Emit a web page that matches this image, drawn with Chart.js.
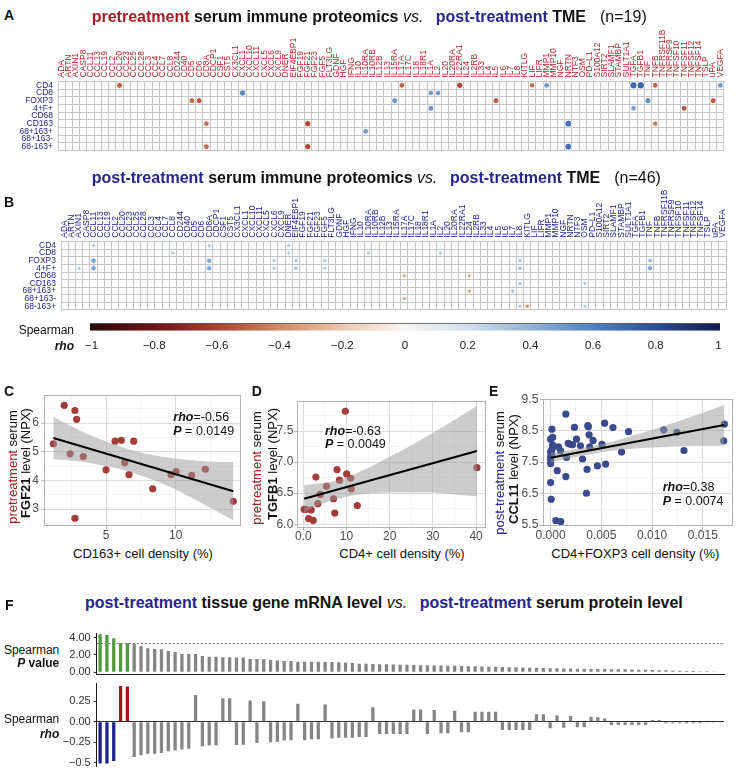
<!DOCTYPE html>
<html>
<head>
<meta charset="utf-8">
<title>Serum immune proteomics vs TME</title>
<script src="https://cdn.jsdelivr.net/npm/chart.js@4.4.1/dist/chart.umd.min.js"></script>
<style>
  body { margin: 0; background: #fff; }
  #fig { position: relative; width: 737px; height: 772px; overflow: hidden; background: #fff;
         font-family: "Liberation Sans", Arial, Helvetica, sans-serif; color: #111; }
  #fig canvas { position: absolute; }
  .t { position: absolute; white-space: nowrap; line-height: 1; }
  .red { color: #a51d23; }
  .navy { color: #25258c; }
  .bi { font-weight: bold; font-style: italic; }
</style>
</head>
<body>
<div id="fig"></div>
<script>
// ---------------- data ----------------
const proteins = ['ADA','ARTN','AXIN1','CASP8','CCL11','CCL13','CCL19','CCL2','CCL20','CCL23','CCL25','CCL28',
  'CCL3','CCL4','CCL7','CCL8','CD244','CD40','CD5','CD6','CD8A','CDCP1','CSF1','CST5','CX3CL1','CXCL1','CXCL10',
  'CXCL11','CXCL5','CXCL6','CXCL9','DNER','EIF4EBP1','FGF19','FGF21','FGF23','FGF5','FLT3LG','GDNF','HGF','IFNG',
  'IL10','IL10RA','IL10RB','IL12B','IL13','IL15RA','IL17A','IL17C','IL18','IL18R1','IL1A','IL2','IL20','IL20RA',
  'IL22RA1','IL24','IL2RB','IL33','IL4','IL5','IL6','IL7','IL8','KITLG','LIF','LIFR','MMP1','MMP10','NGF','NRTN',
  'NTF3','OSM','PD\u2013L1','S100A12','SIRT2','SLAMF1','STAMBP','SULT1A1','TGFA','TGFB1','TNF','TNFB','TNFRSF11B',
  'TNFRSF9','TNFSF10','TNFSF11','TNFSF12','TNFSF14','TSLP','uPA','VEGFA'];
const tmeRows = ['CD4','CD8','FOXP3','4+F+','CD68','CD163','68+163+','68+163-','68-163+'];

// significant cells: [protein, TME marker, Spearman rho]
const preDots = [
  ['CCL20','CD4',-0.52], ['IL17A','CD4',-0.5], ['IL22RA1','CD4',-0.58], ['LIF','CD4',-0.47], ['MMP1','CD4',0.5],
  ['TGFA','CD4',0.7], ['TGFB1','CD4',0.72], ['TNFB','CD4',-0.5], ['VEGFA','CD4',0.5],
  ['CXCL1','CD8',0.58], ['IL1A','CD8',0.5], ['IL2','CD8',0.5],
  ['CD5','FOXP3',-0.5], ['CD6','FOXP3',-0.53], ['IL15RA','FOXP3',0.52], ['IL5','FOXP3',-0.53], ['TNF','FOXP3',0.55], ['uPA','FOXP3',-0.53],
  ['IL1A','4+F+',0.52], ['TGFA','4+F+',0.48], ['TNFSF11','4+F+',-0.53],
  ['CD8A','CD163',-0.48], ['FGF21','CD163',-0.58], ['NRTN','CD163',0.66], ['TNFB','CD163',-0.45],
  ['IL10RA','68+163+',0.5],
  ['CD8A','68-163+',-0.5], ['FGF21','68-163+',-0.58], ['NRTN','68-163+',0.66]
];
const postDots = [
  ['CCL11','CD4',0.3], ['CD8A','CD4',0.3], ['DNER','CD4',0.3],
  ['CCL8','CD8',0.3], ['DNER','CD8',0.3], ['IL10RA','CD8',0.3], ['IL2','CD8',0.3],
  ['CCL11','FOXP3',0.47], ['CD8A','FOXP3',0.45], ['CXCL6','FOXP3',0.3], ['EIF4EBP1','FOXP3',0.32], ['FGF5','FOXP3',0.3],
  ['IL8','FOXP3',0.32], ['TNF','FOXP3',0.38],
  ['AXIN1','4+F+',0.3], ['CCL11','4+F+',0.47], ['CD8A','4+F+',0.45], ['CXCL6','4+F+',0.3], ['EIF4EBP1','4+F+',0.33],
  ['FGF5','4+F+',0.3], ['IL8','4+F+',0.33], ['TNF','4+F+',0.45],
  ['IL17A','CD68',-0.3], ['IL24','CD68',-0.3],
  ['IL8','CD163',0.32], ['OSM','CD163',0.3],
  ['IL24','68+163+',-0.32], ['IL7','68+163+',0.33],
  ['IL17A','68+163-',-0.3],
  ['IL8','68-163+',0.3], ['KITLG','68-163+',-0.35], ['OSM','68-163+',0.3]
];

// colour bar
const rhoTicks = [-1, -0.8, -0.6, -0.4, -0.2, 0, 0.2, 0.4, 0.6, 0.8, 1];
const rhoColors = ['#290a0c','#6e131a','#a8412f','#cf8a65','#ecc8b0','#f7f5f2','#d0deea','#93b2d4','#5281bd','#2c4e92','#131c4e'];

// C: CD163+ density vs pretreatment FGF21
const cDensity = [1.22, 2.0, 2.77, 2.89, 2.42, 3.37, 2.77, 5.0, 5.65, 6.1, 6.99, 6.34, 6.65, 8.35, 9.67, 10.03, 11.15, 12.13, 14.14];
const cFGF21   = [5.28, 6.62, 6.44, 6.13, 4.93, 4.83, 2.68, 4.37, 5.37, 5.40, 5.37, 4.62, 4.20, 3.71, 4.20, 4.31, 4.18, 4.39, 3.27];
const cFitX = [1.22, 14.14], cFitY = [5.48, 3.62];
const cBandX  = [1.22, 3, 4.5, 6, 7.5, 9.36, 11.75, 14.14];
const cBandLo = [4.75, 4.67, 4.55, 4.40, 4.17, 3.82, 3.24, 2.60];
const cBandHi = [6.21, 5.77, 5.45, 5.18, 4.97, 4.80, 4.68, 4.64];
const cXTicks = [2.5, 5, 7.5, 10, 12.5], cXMajor = [5, 10];
const cYTicks = [2.5, 3, 3.5, 4, 4.5, 5, 5.5, 6, 6.5], cYMajor = [3, 4, 5, 6];

// D: CD4+ density vs pretreatment TGFB1
const dDensity = [9.74, 2.92, 7.82, 10.05, 8.37, 10.97, 11.1, 5.38, 3.91, 6.99, 3.38, 12.5, 7.29, 0.62, 1.84, 1.24, 2.3, 40.2, 0.2];
const dTGFB1   = [7.82, 6.76, 6.88, 6.81, 6.71, 6.74, 6.57, 6.61, 6.48, 6.41, 6.33, 6.30, 6.18, 6.24, 6.23, 6.09, 6.06, 6.91, 6.24];
const dFitX = [0.2, 40.2], dFitY = [6.41, 7.18];
const dBandX  = [0.2, 4, 8, 12, 16, 20, 25, 30, 35, 40.2];
const dBandLo = [6.19, 6.32, 6.41, 6.47, 6.50, 6.51, 6.51, 6.51, 6.48, 6.45];
const dBandHi = [6.63, 6.66, 6.71, 6.81, 6.94, 7.09, 7.27, 7.47, 7.68, 7.91];
const dXTicks = [0, 5, 10, 15, 20, 25, 30, 35, 40], dXMajor = [0, 10, 20, 30, 40];
const dYTicks = [6, 6.25, 6.5, 6.75, 7, 7.25, 7.5, 7.75], dYMajor = [6, 6.5, 7, 7.5];

// E: CD4+FOXP3 density vs post-treatment CCL11
const eDensity = [0.00013, 0.0002, 0, 0.0002, 0.00013, 0, 0.0001, 0, 0, 0, 0, 0.00006,
  0.00065, 0.00052, 0.001, 0.0015, 0.00078, 0.00098, 0.00157, 0.0015, 0.00173, 0.0019,
  0.00216, 0.00235, 0.00255, 0.00294, 0.00314, 0.00366, 0.00372, 0.00379, 0.00385, 0.00418,
  0.00359, 0.00353, 0.00461, 0.00506, 0.00532, 0.00542, 0.00614, 0.00699, 0.00768, 0.01114,
  0.01245, 0.01314, 0.01712, 0.01706];
const eCCL11 = [8.55, 8.29, 8.23, 8.05, 7.91, 7.83, 7.76, 7.68, 7.59, 7.46, 6.85, 6.32,
  7.23, 5.64, 5.61, 9.03, 7.99, 7.86, 7.65, 7.04, 8.10, 8.07,
  8.05, 8.61, 8.23, 8.02, 7.60, 8.66, 8.63, 8.37, 7.99, 8.19,
  7.27, 6.51, 7.38, 8.07, 8.74, 7.44, 8.60, 7.82, 8.47, 8.53,
  8.45, 7.87, 8.71, 8.18];
const eFitX = [0, 0.0171], eFitY = [7.64, 8.68];
const eBandX  = [0, 0.002, 0.004, 0.006, 0.008, 0.01, 0.012, 0.0145, 0.0171];
const eBandLo = [7.48, 7.63, 7.76, 7.86, 7.93, 7.97, 8.00, 8.02, 8.03];
const eBandHi = [7.80, 7.89, 8.00, 8.14, 8.33, 8.53, 8.74, 9.02, 9.33];
const eXTicks = [0, 0.0025, 0.005, 0.0075, 0.01, 0.0125, 0.015, 0.0175], eXMajor = [0, 0.005, 0.01, 0.015];
const eYTicks = [5.5, 6, 6.5, 7, 7.5, 8, 8.5, 9, 9.5], eYMajor = [5.5, 6.5, 7.5, 8.5, 9.5];

// F: tissue mRNA vs serum protein, sorted by P
const fPval = [4.39, 4.32, 3.93, 3.35, 3.35, 3.28, 3.04, 2.77, 2.70, 2.66, 2.47, 2.35,
  2.12, 2.12, 2.12, 1.89, 1.81, 1.81, 1.73, 1.73, 1.70, 1.70, 1.54, 1.54,
  1.50, 1.43, 1.35, 1.31, 1.31, 1.23, 1.23, 1.23, 1.23, 1.19, 1.19, 1.16, 1.12, 1.08,
  1.00, 0.98, 0.96, 0.94, 0.92, 0.90, 0.88, 0.86, 0.84, 0.82, 0.80, 0.79, 0.77, 0.76,
  0.75, 0.73, 0.71, 0.69, 0.67, 0.65, 0.63, 0.61, 0.59, 0.57, 0.55, 0.53, 0.51, 0.49,
  0.47, 0.46, 0.44, 0.43, 0.42, 0.40, 0.39, 0.38, 0.37, 0.36, 0.35, 0.34, 0.32, 0.30,
  0.28, 0.26, 0.24, 0.22, 0.20, 0.18, 0.16, 0.15, 0.13, 0.11, 0.09, 0.07];
const fRho = [-0.51, -0.51, -0.48, 0.435, 0.43, -0.43, -0.41, -0.39, -0.39, -0.38, -0.36, -0.35,
  -0.34, -0.33, 0.325, -0.30, -0.29, -0.29, 0.285, 0.285, -0.285, -0.28, 0.26, -0.26,
  0.25, -0.25, -0.245, -0.23, -0.225, 0.22, -0.225, -0.215, -0.215, 0.21, -0.205, -0.195, -0.195, -0.195,
  -0.185, -0.185, 0.175, -0.15, -0.15, -0.15, -0.15, -0.15, 0.15, 0.15, -0.15, 0.142, -0.142, -0.142,
  0.134, -0.13, -0.13, 0.122, 0.122, 0.122, 0.122, -0.10, -0.10, -0.10, -0.10, -0.10, 0.09, 0.09,
  -0.08, 0.077, -0.073, 0.069, -0.069, -0.069, 0.06, 0.053, 0.04, -0.04, -0.04, -0.04, -0.04, -0.04,
  -0.04, 0.02, 0.02, -0.02, -0.02, -0.02, -0.02, -0.02, -0.02, -0.01, -0.01, -0.01];
const pCut = 3.35;
const fPTicks = [0, 2, 4];
const fRhoTicks = [-0.5, -0.25, 0, 0.25];

// ---------------- helpers ----------------
const NAVY = '#25258c', COLRED = '#b0282d', GRIDC = '#c6c6c6', BAND = 'rgba(153,153,153,0.5)';
Chart.defaults.font.family = '"Liberation Sans", Arial, Helvetica, sans-serif';
Chart.defaults.animation = false;
Chart.defaults.responsive = false;
Chart.defaults.plugins.legend.display = false;
Chart.defaults.plugins.tooltip.enabled = false;

const fig = document.getElementById('fig');

function mk(left, top, w, h) {
  const c = document.createElement('canvas');
  c.width = w; c.height = h;
  c.style.left = left + 'px'; c.style.top = top + 'px';
  c.style.width = w + 'px'; c.style.height = h + 'px';
  fig.appendChild(c);
  return c;
}

// pin an axis to a fixed size so the plot area lands where we want it
function fixed(w, h) {
  return s => {
    if (w != null) s.width = w;
    if (h != null) s.height = h;
    s.paddingLeft = s.paddingRight = s.paddingTop = s.paddingBottom = 0;
  };
}

function hexRgb(h) { return [1, 3, 5].map(i => parseInt(h.substr(i, 2), 16)); }
function rhoColor(r) {
  for (let i = 0; i < rhoTicks.length - 1; i++) {
    if (r <= rhoTicks[i + 1]) {
      const f = (r - rhoTicks[i]) / (rhoTicks[i + 1] - rhoTicks[i]);
      const a = hexRgb(rhoColors[i]), b = hexRgb(rhoColors[i + 1]);
      return 'rgb(' + a.map((v, k) => Math.round(v + (b[k] - v) * f)).join(',') + ')';
    }
  }
  return rhoColors[rhoColors.length - 1];
}
const fmtRho = v => v === 0 ? '0' : (v < 0 ? '\u2212' : '') + String(Math.abs(v));

function put(html, x, y, css, how) {
  const d = document.createElement('div');
  d.className = 't';
  d.innerHTML = html;
  d.style.cssText = 'left:' + x + 'px;top:' + y + 'px;' + (css || '');
  const tr = { l: 'translate(0,-50%)', c: 'translate(-50%,-50%)', r: 'translate(-100%,-50%)',
               v: 'translate(-50%,-50%) rotate(-90deg)' };
  d.style.transform = tr[how || 'l'];
  fig.appendChild(d);
}

const frame = {
  id: 'frame',
  afterDraw(chart, args, o) {
    const { ctx, chartArea: a } = chart;
    ctx.save();
    ctx.strokeStyle = o.color || '#b3b3b3';
    ctx.lineWidth = 1;
    ctx.strokeRect(Math.round(a.left) + 0.5, Math.round(a.top) + 0.5, Math.round(a.right - a.left) - 1, Math.round(a.bottom - a.top) - 1);
    ctx.restore();
  }
};

const threshold = {
  id: 'threshold',
  beforeDatasetsDraw(chart) {
    const { ctx, chartArea: a, scales: { y } } = chart;
    const py = Math.round(y.getPixelForValue(pCut)) + 0.5;
    ctx.save();
    ctx.setLineDash([2, 2]);
    ctx.strokeStyle = '#555';
    ctx.lineWidth = 0.8;
    ctx.beginPath(); ctx.moveTo(a.left, py); ctx.lineTo(a.right, py); ctx.stroke();
    ctx.restore();
  }
};

// ---------------- A / B dot matrices ----------------
function heatmap(top, h, area, dots, colColor) {
  const W = 737;
  new Chart(mk(0, top, W, h), {
    type: 'scatter',
    data: { datasets: [{
      data: dots.map(d => ({ x: d[0], y: d[1] })),
      pointBackgroundColor: dots.map(d => rhoColor(d[2])),
      pointRadius: dots.map(d => 0.9 + 4 * Math.abs(d[2])),
      pointBorderColor: '#fff',
      pointBorderWidth: 1
    }]},
    options: {
      layout: { padding: { left: 0, top: 0, right: W - area.r, bottom: top + h - area.b } },
      scales: {
        x: { type: 'category', labels: proteins, position: 'top', offset: true,
             grid: { offset: true, color: GRIDC, drawTicks: false }, border: { color: GRIDC },
             // rotated labels on a top axis sit one line-height left of the tick; shift back
             ticks: { autoSkip: false, minRotation: 90, maxRotation: 90, padding: 4, labelOffset: 8.5,
                      color: colColor, font: { size: 8.5, lineHeight: 1 } },
             afterFit: fixed(null, area.t - top) },
        y: { type: 'category', labels: tmeRows, offset: true,
             grid: { offset: true, color: GRIDC, drawTicks: false }, border: { color: GRIDC },
             ticks: { autoSkip: false, padding: 5, color: NAVY, font: { size: 8.5, lineHeight: 1 } },
             afterFit: fixed(area.l, null) }
      }
    }
  });
}
heatmap(24, 132, { l: 58, t: 81.5, r: 724, b: 150.5 }, preDots, COLRED);
heatmap(185, 130, { l: 61, t: 241.7, r: 726, b: 310.7 }, postDots, NAVY);

// ---------------- colour bar ----------------
new Chart(mk(0, 316, 737, 40), {
  type: 'bar',
  data: { labels: ['rho'], datasets: [{
    data: [[-1.005, 1.005]],
    backgroundColor: c => {
      const ch = c.chart;
      if (!ch.chartArea) return 'transparent';
      const x = ch.scales.x;
      const g = ch.ctx.createLinearGradient(x.getPixelForValue(-1), 0, x.getPixelForValue(1), 0);
      rhoTicks.forEach((v, i) => g.addColorStop((v + 1) / 2, rhoColors[i]));
      return g;
    },
    borderColor: '#222', borderWidth: { top: 0.8, bottom: 0, left: 0, right: 0 }, borderSkipped: false,
    barPercentage: 1, categoryPercentage: 1
  }]},
  options: {
    indexAxis: 'y',
    layout: { padding: { left: 90, right: 17, top: 7.3, bottom: 0 } },
    scales: {
      x: { type: 'linear', min: -1.005, max: 1.005,
           afterBuildTicks: s => { s.ticks = rhoTicks.map(v => ({ value: v })); },
           grid: { display: false, drawTicks: false }, border: { display: false },
           ticks: { padding: 9.5, color: '#1a1a1a', font: { size: 11.5, lineHeight: 1 }, callback: fmtRho },
           afterFit: fixed(null, 356 - 330.7) },
      y: { display: false }
    }
  }
});

// ---------------- C / D / E scatter panels ----------------
function linAxis(a, fit) {
  const major = v => a.major.some(m => Math.abs(m - v) < 1e-9);
  return {
    type: 'linear', min: a.min, max: a.max,
    afterBuildTicks: s => { s.ticks = a.ticks.map(v => ({ value: v })); },
    grid: { color: c => major(c.tick.value) ? '#dcdcdc' : '#efefef',
            lineWidth: c => major(c.tick.value) ? 1 : 0.6,
            tickLength: 3, tickColor: c => major(c.tick.value) ? '#b3b3b3' : 'rgba(0,0,0,0)' },
    border: { display: false },
    ticks: { autoSkip: false, maxRotation: 0, color: '#4d4d4d', padding: a.pad,
             font: { size: 12, lineHeight: 1 }, callback: v => major(v) ? a.fmt(v) : '' },
    afterFit: fit
  };
}

function panel(rect, area, p) {
  const xy = (xs, ys) => xs.map((x, i) => ({ x, y: ys[i] }));
  new Chart(mk(rect.l, rect.t, rect.w, rect.h), {
    type: 'line',
    data: { datasets: [
      { data: xy(p.fitX, p.fitY), borderColor: '#000', borderWidth: 2, pointRadius: 0, order: 0 },
      { data: xy(p.bandX, p.hi), borderColor: 'transparent', borderWidth: 1, pointRadius: 0,
        fill: '+1', backgroundColor: BAND, cubicInterpolationMode: 'monotone', order: 1 },
      { data: xy(p.bandX, p.lo), borderColor: 'transparent', borderWidth: 1, pointRadius: 0,
        fill: false, cubicInterpolationMode: 'monotone', order: 1 },
      { data: xy(p.px, p.py), showLine: false, pointRadius: 3.6, pointBackgroundColor: p.col,
        pointBorderWidth: 0, order: 2 }
    ]},
    options: {
      layout: { padding: { left: 0, top: area.t - rect.t, right: rect.l + rect.w - area.r, bottom: 0 } },
      scales: {
        x: linAxis(p.x, fixed(null, rect.t + rect.h - area.b)),
        y: linAxis(p.y, fixed(area.l - rect.l, null))
      },
      plugins: { frame: { color: '#b3b3b3' } }
    },
    plugins: [frame]
  });
}

panel({ l: 0, t: 385, w: 250, h: 160 }, { l: 44.3, t: 395, r: 241.7, b: 525.7 }, {
  px: cDensity, py: cFGF21, fitX: cFitX, fitY: cFitY, bandX: cBandX, lo: cBandLo, hi: cBandHi, col: '#a33c3b',
  x: { min: 0.57, max: 14.74, ticks: cXTicks, major: cXMajor, pad: 1, fmt: v => String(v) },
  y: { min: 2.42, max: 6.98, ticks: cYTicks, major: cYMajor, pad: 2.3, fmt: v => String(v) }
});
panel({ l: 250, t: 390, w: 240, h: 155 }, { l: 297.3, t: 400.7, r: 487.3, b: 527.3 }, {
  px: dDensity, py: dTGFB1, fitX: dFitX, fitY: dFitY, bandX: dBandX, lo: dBandLo, hi: dBandHi, col: '#a33c3b',
  x: { min: -1.38, max: 42.3, ticks: dXTicks, major: dXMajor, pad: 0, fmt: v => v === 0 ? '0.0' : String(v) },
  y: { min: 5.95, max: 7.99, ticks: dYTicks, major: dYMajor, pad: 1, fmt: v => v.toFixed(1) }
});
panel({ l: 490, t: 388, w: 247, h: 157 }, { l: 542.7, t: 399.3, r: 734, b: 526.7 }, {
  px: eDensity, py: eCCL11, fitX: eFitX, fitY: eFitY, bandX: eBandX, lo: eBandLo, hi: eBandHi, col: '#3b4a8c',
  x: { min: -0.00078, max: 0.01797, ticks: eXTicks, major: eXMajor, pad: 0, fmt: v => v.toFixed(3) },
  y: { min: 5.446, max: 9.5, ticks: eYTicks, major: eYMajor, pad: 1.4, fmt: v => v.toFixed(1) }
});

// ---------------- F bar charts ----------------
const fGenes = fRho.map((_, i) => 'g' + (i + 1));
const sig = fPval.map(v => v >= pCut);

new Chart(mk(60, 626, 677, 50), {
  type: 'bar',
  data: { labels: fGenes, datasets: [{
    data: fPval, backgroundColor: sig.map(s => s ? '#4f9a3c' : '#858585'),
    categoryPercentage: 1, barPercentage: 0.48
  }]},
  options: {
    layout: { padding: { left: 0, top: 7.3, right: 13, bottom: 0 } },
    scales: {
      x: { grid: { display: false, drawTicks: false }, ticks: { display: false },
           border: { color: '#1a1a1a', width: 1 }, afterFit: fixed(null, 2) },
      y: { min: -0.2, max: 4.51,
           afterBuildTicks: s => { s.ticks = fPTicks.map(v => ({ value: v })); },
           grid: { drawOnChartArea: false, tickLength: 3, tickColor: '#333' },
           border: { color: '#1a1a1a', width: 1 },
           ticks: { color: '#333', padding: 3, font: { size: 11, lineHeight: 1 }, callback: v => v.toFixed(2) },
           afterFit: fixed(36.7, null) }
    }
  },
  plugins: [threshold]
});

new Chart(mk(60, 678, 677, 94), {
  type: 'bar',
  data: { labels: fGenes, datasets: [{
    data: fRho,
    backgroundColor: fRho.map((v, i) => sig[i] ? (v < 0 ? '#1f1f8e' : '#a5151d') : '#858585'),
    categoryPercentage: 1, barPercentage: 0.48
  }]},
  options: {
    layout: { padding: { left: 0, top: 5, right: 13, bottom: 6 } },
    scales: {
      x: { display: false },
      y: { min: -0.54, max: 0.472,
           afterBuildTicks: s => { s.ticks = fRhoTicks.map(v => ({ value: v })); },
           grid: { color: c => c.tick.value === 0 ? '#333' : 'rgba(0,0,0,0)', lineWidth: 1,
                   tickLength: 3, tickColor: '#333' },
           border: { color: '#1a1a1a', width: 1 },
           ticks: { color: '#333', padding: 3, font: { size: 11, lineHeight: 1 },
                    callback: v => v === 0 ? '0.00' : (v < 0 ? '\u2212' : '') + (Math.abs(v) === 0.5 ? '0.5' : Math.abs(v).toFixed(2)) },
           afterFit: fixed(36.7, null) }
    }
  }
});

// ---------------- text ----------------
const L = 'font-weight:bold;font-size:14px;';
put('A', 4, 15, L); put('B', 4, 202, L); put('C', 4, 391, L); put('D', 251.7, 391, L); put('E', 489, 391, L); put('F', 5, 604.7, L);

const T = 'font-size:16px;font-weight:bold;';
put('<span class="red">pretreatment</span> serum immune proteomics <i style="font-weight:normal;margin-right:8px">vs.</i> ' +
    '<span class="navy">post-treatment</span> TME<span style="font-weight:normal;margin-left:14px">(n=19)</span>', 91.7, 17.2, T);
put('<span class="navy">post-treatment</span> serum immune proteomics <i style="font-weight:normal;margin-right:8px">vs.</i> ' +
    '<span class="navy">post-treatment</span> TME<span style="font-weight:normal;margin-left:14px">(n=46)</span>', 91.7, 177.5, T);
put('<span class="navy">post-treatment</span> tissue gene mRNA level <i style="font-weight:normal;margin-right:8px">vs.</i> ' +
    '<span class="navy">post-treatment</span> serum protein level', 85, 603.2, T);

put('Spearman', 74, 330.3, 'font-size:12px;', 'r');
put('<span class="bi">rho</span>', 74, 345.5, 'font-size:12px;', 'r');

const A13 = 'font-size:13px;';
put('<span class="red">pretreatment</span> serum', 11.7, 467.3, A13, 'v');
put('<b>FGF21</b> level (NPX)', 25, 463.3, A13, 'v');
put('<span class="red">pretreatment</span> serum', 256, 467.8, A13, 'v');
put('<b>TGFB1</b> level (NPX)', 271.7, 464, A13, 'v');
put('<span class="navy">post-treatment</span> serum', 498.7, 472.5, A13, 'v');
put('<b>CCL11</b> level (NPX)', 513, 469, A13, 'v');

put('CD163+ cell density (%)', 143, 553.3, A13, 'c');
put('CD4+ cell density (%)', 402, 553, A13, 'c');
put('CD4+FOXP3 cell density (%)', 635.3, 553, A13, 'c');

const S = 'font-size:12.5px;';
put('<span class="bi">rho</span>=-0.56', 173.3, 416.7, S);
put('<span class="bi">P</span> = 0.0149', 173.3, 431, S);
put('<span class="bi">rho</span>=-0.63', 325, 431, S);
put('<span class="bi">P</span> = 0.0049', 325, 444.3, S);
put('<span class="bi">rho</span>=0.38', 662.7, 487.3, S);
put('<span class="bi">P</span> = 0.0074', 662.7, 500.7, S);

put('Spearman', 59.3, 650.3, 'font-size:12px;', 'r');
put('<span class="bi">P</span> <b>value</b>', 59.3, 662.8, 'font-size:12px;', 'r');
put('Spearman', 59.3, 719.2, 'font-size:12px;', 'r');
put('<span class="bi">rho</span>', 59.3, 734, 'font-size:12px;', 'r');
</script>
</body>
</html>
